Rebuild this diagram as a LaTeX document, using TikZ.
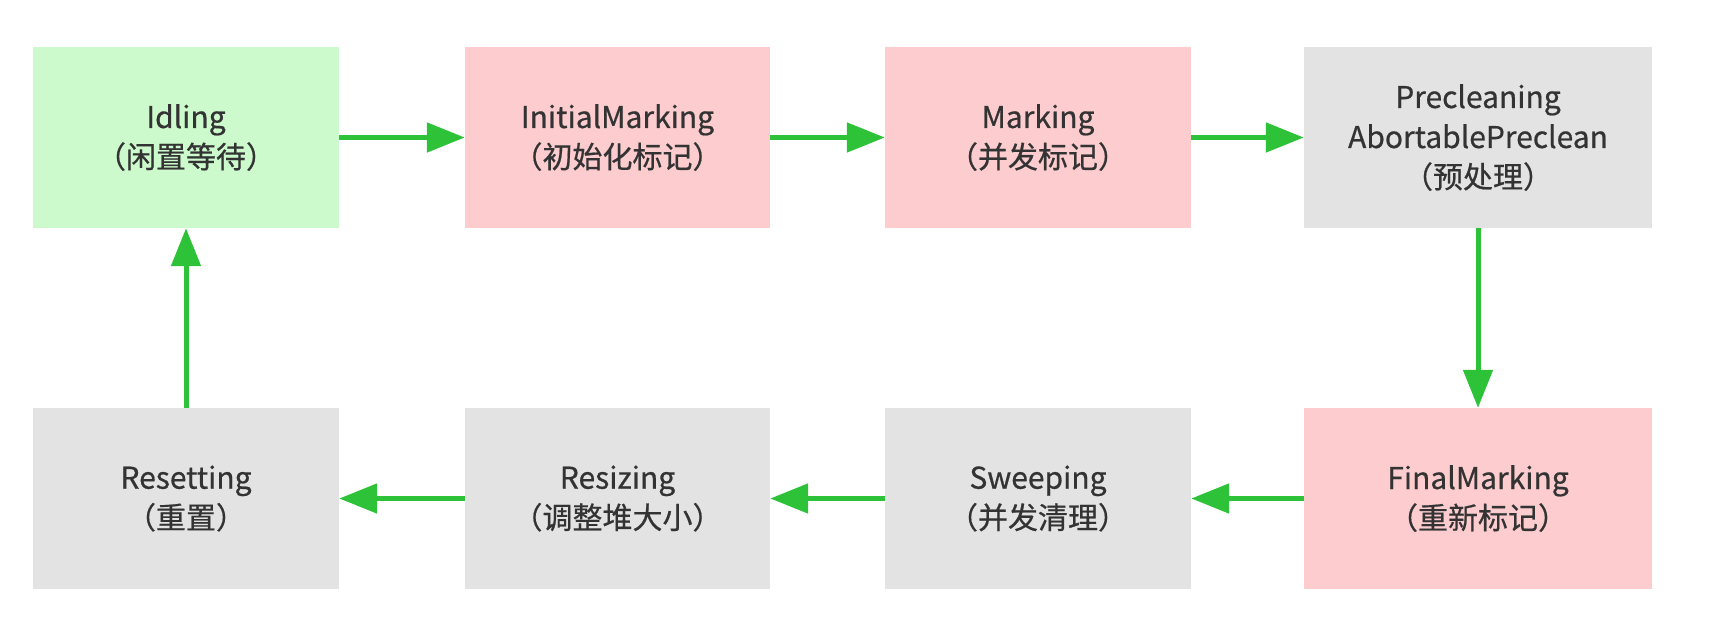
\documentclass[tikz,border=0pt]{standalone}
\usepackage{fontspec}
\setmainfont{Noto Sans CJK SC}
\newfontfamily\nodefont{Noto Sans CJK SC}[FakeBold=0.6]
\usetikzlibrary{arrows.meta}
\definecolor{boxgreen}{RGB}{204,250,204}
\definecolor{boxpink}{RGB}{252,204,207}
\definecolor{boxgray}{RGB}{227,227,227}
\definecolor{arrowgreen}{RGB}{46,194,56}
\definecolor{txt}{RGB}{51,51,51}
\tikzset{
  state/.style={rectangle, inner sep=0pt, minimum height=181pt, minimum width=306pt,
    align=center, text=txt, font=\nodefont\fontsize{30pt}{40pt}\selectfont},
  greenbox/.style={state, fill=boxgreen},
  pinkbox/.style={state, fill=boxpink},
  graybox/.style={state, fill=boxgray},
  flow/.style={draw=arrowgreen, line width=5pt,
    -{Triangle[length=38pt,width=29pt]}}
}
\begin{document}
\begin{tikzpicture}[x=1pt,y=-1pt]
\useasboundingbox (0,0) rectangle (1724,628);
\node[greenbox] (idle) at (186,137.5) {Idling\\（闲置等待）};
\node[pinkbox, minimum width=305pt] (init) at (617.5,137.5) {InitialMarking\\（初始化标记）};
\node[pinkbox] (mark) at (1038,137.5) {Marking\\（并发标记）};
\node[graybox, minimum width=348pt] (pre) at (1478,137.5) {Precleaning\\AbortablePreclean\\（预处理）};
\node[pinkbox, minimum width=348pt] (final) at (1478,498.5) {FinalMarking\\（重新标记）};
\node[graybox] (sweep) at (1038,498.5) {Sweeping\\（并发清理）};
\node[graybox, minimum width=305pt] (resize) at (617.5,498.5) {Resizing\\（调整堆大小）};
\node[graybox] (reset) at (186,498.5) {Resetting\\（重置）};
\draw[flow] (idle) -- (init);
\draw[flow] (init) -- (mark);
\draw[flow] (mark) -- (pre);
\draw[flow] (pre) -- (final);
\draw[flow] (final) -- (sweep);
\draw[flow] (sweep) -- (resize);
\draw[flow] (resize) -- (reset);
\draw[flow] (reset) -- (idle);
\end{tikzpicture}
\end{document}
